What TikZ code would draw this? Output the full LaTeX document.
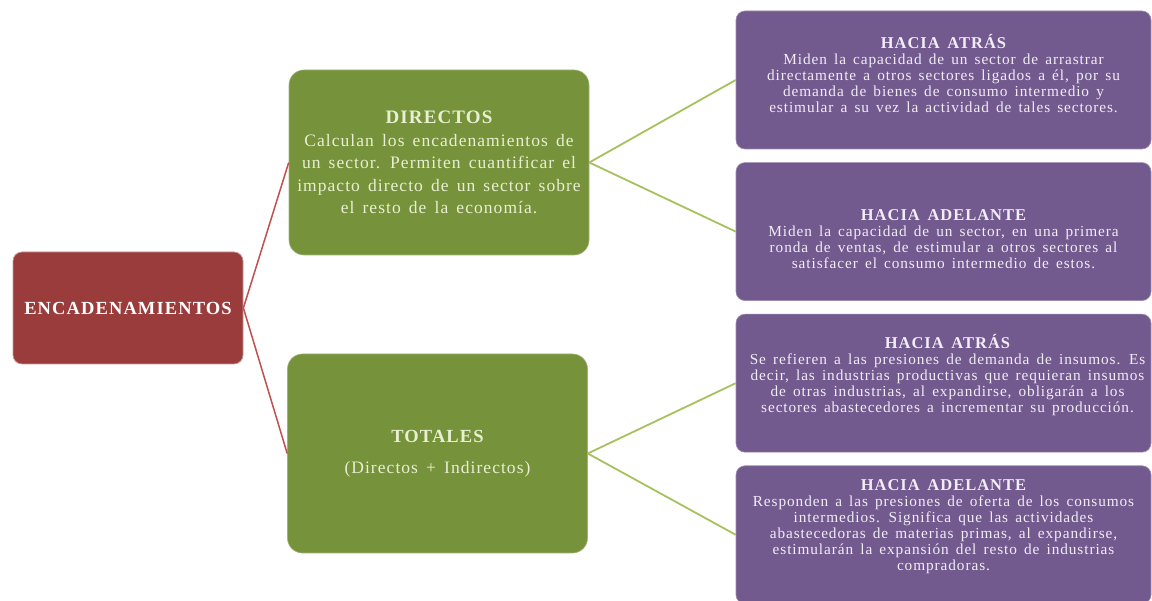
\documentclass[tikz,border=0pt]{standalone}
\usepackage{fontspec}
\setmainfont{Liberation Serif}[LetterSpace=6.0, WordSpace=1.5]
\usetikzlibrary{positioning}
\definecolor{encred}{HTML}{9A3C3C}
\definecolor{dirgreen}{HTML}{76923A}
\definecolor{hacpurple}{HTML}{725A8E}
\definecolor{redline}{HTML}{C0504D}
\definecolor{greenline}{HTML}{A6C15E}
\definecolor{greentext}{HTML}{E8EFD2}
\definecolor{purpletext}{HTML}{F2ECF6}
\newcommand{\hachead}[1]{{\fontsize{16.5}{16}\selectfont\bfseries #1}}

\begin{document}
\begin{tikzpicture}[x=1pt, y=1pt,
    encbox/.style={rectangle, rounded corners=9pt, fill=encred, draw=encred!55!white, line width=0.8pt, text=white, minimum width=230pt, minimum height=112pt, font=\fontsize{18.5}{20}\selectfont\bfseries},
    greenbox/.style={rectangle, rounded corners=15pt, fill=dirgreen, draw=dirgreen!70!white, line width=0.6pt, text=greentext, align=center, minimum width=300pt, font=\fontsize{17.5}{22.5}\selectfont},
    purplebox/.style={rectangle, rounded corners=9pt, fill=hacpurple, draw=hacpurple!70!white, line width=0.6pt, minimum width=415pt, minimum height=138pt},
    hactext/.style={align=center, text=purpletext, inner sep=0pt, font=\fontsize{15.3}{16}\selectfont},
    redlink/.style={draw=redline, line width=1.5pt},
    greenlink/.style={draw=greenline, line width=1.8pt}]
  \useasboundingbox (0,0) rectangle (1152,601);
  \clip (0,0) rectangle (1152,601);
  \fill[white] (0,0) rectangle (1152,601);
  \node (enc) [encbox] at (128,293) {ENCADENAMIENTOS};%root box
  \node (dir) [greenbox, minimum height=185pt] at (439,438.5) {{\fontsize{19}{22.5}\selectfont\bfseries DIRECTOS}\\Calculan los encadenamientos de\\un sector. Permiten cuantificar el\\impacto directo de un sector sobre\\el resto de la econom\'ia.};%direct linkages
  \node (tot) [greenbox, minimum height=199pt] at (437.5,147.5) {{\fontsize{18.5}{22}\selectfont\bfseries TOTALES}\\[9pt](Directos + Indirectos)};%total linkages
  \node (dirback) [purplebox, label={[hactext, yshift=6pt]center:{\hachead{HACIA ATRÁS}\\Miden la capacidad de un sector de arrastrar\\directamente a otros sectores ligados a él, por su\\demanda de bienes de consumo intermedio y\\estimular a su vez la actividad de tales sectores.}}] at (943.5,521) {};%direct backward
  \node (dirfwd) [purplebox, below=13pt of dirback, label={[hactext, yshift=-8pt]center:{\hachead{HACIA ADELANTE}\\Miden la capacidad de un sector, en una primera\\ronda de ventas, de estimular a otros sectores al\\satisfacer el consumo intermedio de estos.}}] {};%direct forward
  \node (totback) [purplebox, below=13pt of dirfwd, label={[hactext, yshift=8pt, xshift=4pt]center:{\hachead{HACIA ATRÁS}\\Se refieren a las presiones de demanda de insumos. Es\\decir, las industrias productivas que requieran insumos\\de otras industrias, al expandirse, obligarán a los\\sectores abastecedores a incrementar su producción.}}] {};%total backward
  \node (totfwd) [purplebox, below=13pt of totback, label={[hactext, yshift=8pt]center:{\hachead{HACIA ADELANTE}\\Responden a las presiones de oferta de los consumos\\intermedios. Significa que las actividades\\abastecedoras de materias primas, al expandirse,\\estimularán la expansión del resto de industrias\\compradoras.}}] {};%total forward
  \draw[redlink] (enc.east) -- (dir.west);%root to direct
  \draw[redlink] (enc.east) -- (tot.west);%root to total
  \draw[greenlink] (dir.east) -- (dirback.west);%direct to backward
  \draw[greenlink] (dir.east) -- (dirfwd.west);%direct to forward
  \draw[greenlink] (tot.east) -- (totback.west);%total to backward
  \draw[greenlink] (tot.east) -- (totfwd.west);%total to forward
\end{tikzpicture}
\end{document}
